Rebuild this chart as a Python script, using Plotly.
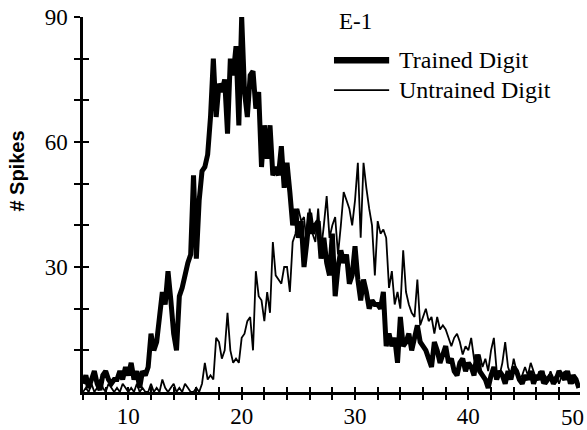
import plotly.graph_objects as go

# time bins (s)
bins = [6.0, 6.25, 6.5, 6.75, 7.0, 7.25, 7.5, 7.75, 8.0, 8.25, 8.5, 8.75,
        9.0, 9.25, 9.5, 9.75, 10.0, 10.25, 10.5, 10.75, 11.0, 11.25, 11.5, 11.75,
        12.0, 12.25, 12.5, 12.75, 13.0, 13.25, 13.5, 13.75, 14.0, 14.25, 14.5, 14.75,
        15.0, 15.25, 15.5, 15.75, 16.0, 16.25, 16.5, 16.75, 17.0, 17.25, 17.5, 17.75,
        18.0, 18.25, 18.5, 18.75, 19.0, 19.25, 19.5, 19.75, 20.0, 20.25, 20.5, 20.75,
        21.0, 21.25, 21.5, 21.75, 22.0, 22.25, 22.5, 22.75, 23.0, 23.25, 23.5, 23.75,
        24.0, 24.25, 24.5, 24.75, 25.0, 25.25, 25.5, 25.75, 26.0, 26.25, 26.5, 26.75,
        27.0, 27.25, 27.5, 27.75, 28.0, 28.25, 28.5, 28.75, 29.0, 29.25, 29.5, 29.75,
        30.0, 30.25, 30.5, 30.75, 31.0, 31.25, 31.5, 31.75, 32.0, 32.25, 32.5, 32.75,
        33.0, 33.25, 33.5, 33.75, 34.0, 34.25, 34.5, 34.75, 35.0, 35.25, 35.5, 35.75,
        36.0, 36.25, 36.5, 36.75, 37.0, 37.25, 37.5, 37.75, 38.0, 38.25, 38.5, 38.75,
        39.0, 39.25, 39.5, 39.75, 40.0, 40.25, 40.5, 40.75, 41.0, 41.25, 41.5, 41.75,
        42.0, 42.25, 42.5, 42.75, 43.0, 43.25, 43.5, 43.75, 44.0, 44.25, 44.5, 44.75,
        45.0, 45.25, 45.5, 45.75, 46.0, 46.25, 46.5, 46.75, 47.0, 47.25, 47.5, 47.75,
        48.0, 48.25, 48.5, 48.75, 49.0, 49.25, 49.5, 49.75]

trained = [2, 4, 1, 3, 5, 2, 0.5, 4, 5, 3, 2, 3, 3, 5, 3, 6, 4, 7, 3, 5, 1, 5, 4, 6,
           14, 10, 12, 18, 24, 21, 29, 22, 14, 10, 23, 25, 28, 31, 33, 52, 32, 46, 53, 54, 57, 66, 80, 66,
           74, 72, 75, 62, 80, 76, 83, 64, 90, 72, 66, 76, 77, 68, 72, 54, 64, 56, 64, 52, 54, 52, 59, 49,
           55, 48, 40, 44, 37, 41, 30, 36, 43, 38, 40, 41, 32, 37, 31, 28, 38, 23, 30, 34, 31, 33, 26, 28,
           35, 27, 22, 27, 24, 20, 22, 21, 21, 20, 24, 11, 14, 11, 13, 7, 18, 11, 12, 14, 10, 13, 16, 12,
           11, 10, 8, 6, 12, 10, 7, 9, 11, 7, 8, 5, 4, 7, 8, 5, 7, 6, 4, 9, 5, 4, 3, 1,
           4, 6, 3, 5, 4, 2, 5, 3, 6, 5, 3, 2, 4, 3, 5, 2, 4, 3, 5, 2, 3, 4, 2, 3,
           5, 4, 3, 5, 2, 4, 3, 1]

untrained = [0, 1, 0, 2, 0, 1, 3, 1, 0, 2, 1, 0, 1, 0, 2, 1, 0, 1, 0, 2, 0, 1, 0, 0,
             2, 0, 1, 0, 3, 1, 0, 1, 2, 0, 1, 0, 2, 1, 0, 0, 1, 0, 2, 7, 3, 4, 3, 13,
             12, 8, 10, 19, 10, 7, 8, 7, 13, 14, 17, 18, 10, 29, 23, 22, 17, 24, 19, 36, 28, 27, 26, 30,
             30, 24, 36, 38, 44, 41, 42, 35, 44, 38, 36, 44, 34, 40, 47, 37, 40, 42, 33, 40, 48, 46, 44, 40,
             46, 55, 37, 55, 49, 44, 40, 28, 41, 38, 39, 37, 25, 29, 21, 24, 20, 34, 24, 21, 19, 18, 27, 16,
             18, 20, 17, 18, 14, 18, 15, 16, 15, 13, 11, 13, 14, 12, 9, 11, 10, 13, 8, 6, 9, 6, 8, 5,
             10, 13, 5, 4, 7, 12, 6, 4, 8, 5, 3, 4, 6, 4, 7, 5, 3, 5, 2, 4, 3, 5, 3, 4,
             2, 4, 5, 3, 4, 2, 3, 1]

y_tickvals = [10, 20, 30, 40, 50, 60, 70, 80, 90]
y_ticktext = ["", "", "30", "", "", "60", "", "", "90"]
x_tickvals = [6, 8, 10, 12, 14, 16, 18, 20, 22, 24, 26, 28, 30, 32, 34, 36, 38, 40, 42, 44, 46, 48]
x_ticktext = ["", "", "10", "", "", "", "", "20", "", "", "", "", "30", "", "", "", "", "40", "", "", "", ""]
last_x_label = "50"

series_names = ["Trained Digit", "Untrained Digit"]
panel_label = "E-1"
y_title = "# Spikes"

SERIF = "Liberation Serif, Times New Roman, serif"
SANS = "Liberation Sans, Arial, sans-serif"

XR = [6, 49.85]
YR = [0, 90]

fig = go.Figure()
fig.add_trace(go.Scatter(x=bins, y=untrained, mode="lines", name=series_names[1],
                         line=dict(color="black", width=1.8, simplify=False), showlegend=False))
fig.add_trace(go.Scatter(x=bins, y=trained, mode="lines", name=series_names[0],
                         line=dict(color="black", width=5, simplify=False), showlegend=False))

tick_font = dict(family=SERIF, size=23, color="black")

fig.update_layout(
    width=587, height=430,
    margin=dict(l=83, r=7, t=17, b=38, autoexpand=False),
    paper_bgcolor="white", plot_bgcolor="white",
    showlegend=False,
    xaxis=dict(range=XR, showgrid=False, zeroline=False, showline=True, linecolor="black",
               linewidth=2.5, ticks="outside", ticklen=5, tickwidth=2, tickcolor="black",
               tickmode="array", tickvals=x_tickvals, ticktext=x_ticktext, tickfont=tick_font,
               ticklabelstandoff=-3),
    yaxis=dict(range=YR, showgrid=False, zeroline=False, showline=True, linecolor="black",
               linewidth=2.5, ticks="outside", ticklen=6, tickwidth=2, tickcolor="black",
               tickmode="array", tickvals=y_tickvals, ticktext=y_ticktext, tickfont=tick_font,
               ticklabelstandoff=2),
    xaxis2=dict(range=XR, overlaying="x", showgrid=False, zeroline=False, showline=False,
                ticks="inside", ticklen=5, tickwidth=2, tickcolor="black",
                tickmode="array", tickvals=x_tickvals, showticklabels=False),
    yaxis2=dict(range=YR, overlaying="y", showgrid=False, zeroline=False, showline=False,
                ticks="inside", ticklen=6, tickwidth=2, tickcolor="black",
                tickmode="array", tickvals=y_tickvals, showticklabels=False),
)

# extra empty trace so the overlay axes render
fig.add_trace(go.Scatter(x=[None], y=[None], xaxis="x2", yaxis="y2", showlegend=False,
                         hoverinfo="skip"))

fig.add_annotation(text=last_x_label, xref="paper", yref="paper", x=0.985, y=0,
                   xanchor="center", yanchor="top", yshift=-11, showarrow=False, font=tick_font)

fig.add_annotation(text="<b>" + y_title + "</b>", xref="paper", yref="paper",
                   x=-0.1318, y=0.589, xanchor="center", yanchor="middle", textangle=-90,
                   showarrow=False, font=dict(family=SANS, size=20, color="black"))

fig.add_annotation(text=panel_label, xref="paper", yref="paper", x=0.549, y=0.989,
                   xanchor="center", yanchor="middle", showarrow=False,
                   font=dict(family=SERIF, size=23, color="black"))

# legend drawn by hand
leg_x0, leg_x1 = 0.505, 0.616
leg_rows = [(0.885, 6.5, series_names[0]), (0.805, 1.8, series_names[1])]
for yy, w, name in leg_rows:
    fig.add_shape(type="line", xref="paper", yref="paper", x0=leg_x0, x1=leg_x1, y0=yy, y1=yy,
                  line=dict(color="black", width=w))
    fig.add_annotation(text=name, xref="paper", yref="paper", x=0.632, y=yy, xanchor="left",
                       yanchor="middle", showarrow=False,
                       font=dict(family=SERIF, size=24, color="black"))

fig.write_html("out.html", config={"displayModeBar": False},
               post_script="document.body.style.margin='0';document.body.style.overflow='hidden';")
